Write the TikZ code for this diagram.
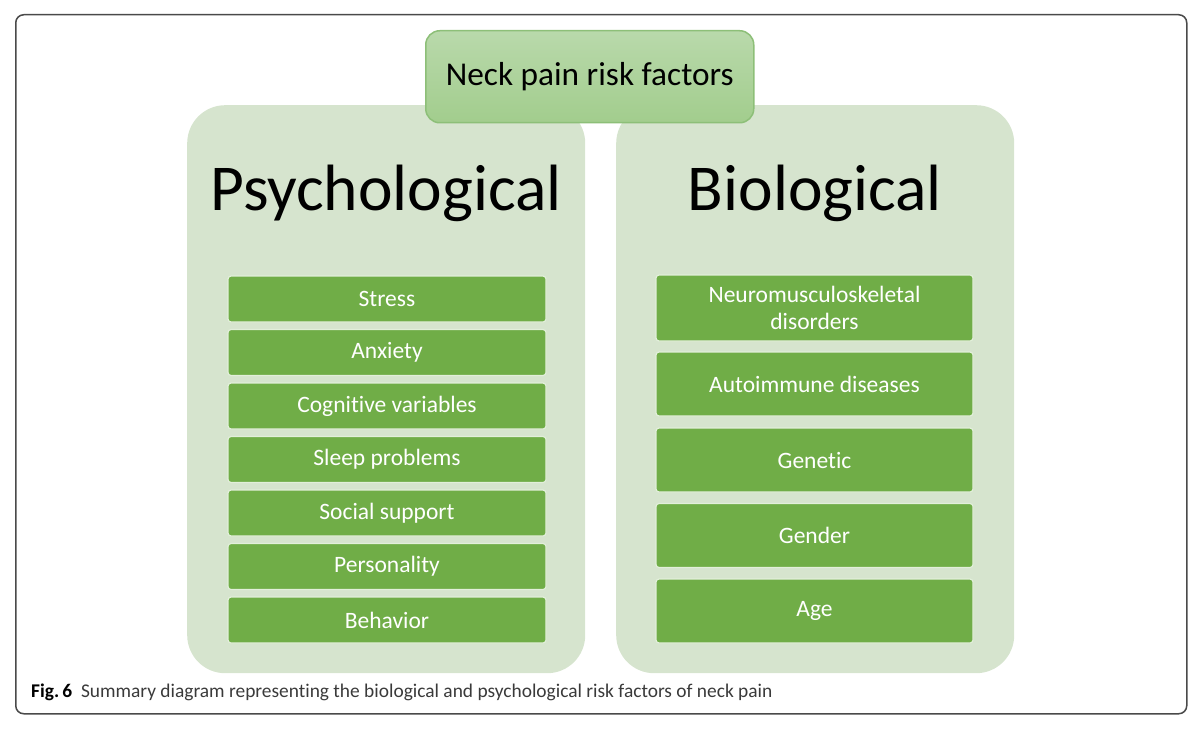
\documentclass[tikz,border=0pt]{standalone}
\usepackage{fontspec}
\setmainfont{Carlito}[Ligatures=NoCommon]
\definecolor{panelgreen}{HTML}{D6E4CE}
\definecolor{itemgreen}{HTML}{70AD47}
\definecolor{topgreenA}{HTML}{B9D9AB}
\definecolor{topgreenB}{HTML}{A2CD8D}
\definecolor{topedge}{HTML}{8DBF78}
\definecolor{framegray}{HTML}{4A4A4A}
\definecolor{captiongray}{HTML}{3A3A3A}
\tikzset{
	panel/.style={fill=panelgreen, rounded corners=38pt, minimum width=398pt, minimum height=568pt, anchor=north west, inner sep=0pt},
	paneltitle/.style={font=\fontsize{65.5}{65.5}\selectfont, anchor=base},
	factor/.style={draw=white!80!itemgreen, line width=1.2pt, fill=itemgreen, rounded corners=3pt, text=white, font=\fontsize{23.5}{27}\selectfont, inner sep=0pt, align=center},
	psychitem/.style={factor, minimum width=318pt, minimum height=46pt},
	bioitem/.style={factor, minimum width=317pt, minimum height=64pt},
}

\begin{document}
\begin{tikzpicture}[x=1pt, y=-1pt]
			%%%%% START %%%%%
			\useasboundingbox (0, 0) rectangle (1200, 733);
			
			\node[draw=framegray, line width=1.5pt, rounded corners=8pt, minimum width=1171pt, minimum height=699pt, anchor=north west, inner sep=0pt] (frame) at (15, 14) {};
			
			\node[panel] (psych) at (187, 105) {};
			\node[panel] (bio) at (616, 105) {};
			
			\node[draw=topedge, line width=1.5pt, top color=topgreenA, bottom color=topgreenB, rounded corners=14pt, minimum width=328pt, minimum height=92pt, anchor=north west, inner sep=0pt, font=\fontsize{33.3}{33.3}\selectfont] (risk) at (425, 30) {Neck pain risk factors};
			
			\node[paneltitle] (psychtitle) at (386, 210) {Psychological};
			\node[paneltitle] (biotitle) at (815, 210) {Biological};
			
			\node[psychitem] (stress) at (387, 299) {Stress};
			\node[psychitem] (anxiety) at (387, 352.5) {Anxiety};
			\node[psychitem] (cognitive) at (387, 406) {Cognitive variables};
			\node[psychitem] (sleep) at (387, 459.5) {Sleep problems};
			\node[psychitem] (social) at (387, 513) {Social support};
			\node[psychitem] (personality) at (387, 566.5) {Personality};
			\node[psychitem] (behavior) at (387, 620) {Behavior};
			
			\node[bioitem, minimum height=66pt] (neuro) at (814.5, 308) {Neuromusculoskeletal\\disorders};
			\node[bioitem] (autoimmune) at (814.5, 384) {Autoimmune diseases};
			\node[bioitem] (genetic) at (814.5, 460) {Genetic};
			\node[bioitem] (gender) at (814.5, 535.5) {Gender};
			\node[bioitem] (age) at (814.5, 611) {Age};
			
			\node[anchor=base west, inner sep=0pt, text=captiongray, font=\fontsize{19.4}{19.4}\selectfont] (caption) at (31, 697) {\textbf{\color{black}Fig.\,6}\hspace{0.45em}Summary diagram representing the biological and psychological risk factors of neck pain};
			%%%%% END %%%%%
\end{tikzpicture}
\end{document}
